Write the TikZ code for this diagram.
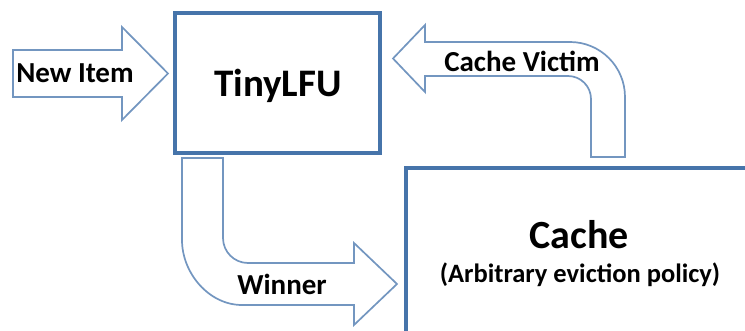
\documentclass[tikz,border=0pt]{standalone}
\usepackage{fontspec}
\setmainfont{Carlito}
\definecolor{boxblue}{RGB}{70,116,170}
\definecolor{arrowblue}{RGB}{115,150,192}
\tikzset{
    boxline/.style={draw=boxblue, line width=3.4pt, fill=white},
    blockarrow/.style={draw=arrowblue, line width=1.7pt, fill=white, line join=miter},
    lbl/.style={inner sep=0pt, anchor=base, font=\bfseries},
}
\begin{document}
\begin{tikzpicture}[x=1pt, y=-1pt]
    \useasboundingbox (0,0) rectangle (745,331);

    % New Item arrow
    \draw[blockarrow] (13,50) -- (122,50) -- (122,27) -- (168,73.5) -- (122,120) -- (122,97) -- (13,97) -- cycle;
    \node[lbl, font=\bfseries\fontsize{29}{29}\selectfont] (newitem) at (75,83) {New Item};

    % Cache Victim arrow (bent, coming up out of the cache)
    \draw[blockarrow] (393,58.5) -- (425,25) -- (425,42) -- (570,42)
        .. controls (600.4,42) and (625,66.6) .. (625,97) -- (625,157) -- (591,157) -- (591,99)
        .. controls (591,86.3) and (580.7,76) .. (568,76) -- (425,76) -- (425,92) -- cycle;
    \node[lbl, font=\bfseries\fontsize{29}{29}\selectfont] (victim) at (522,72) {Cache Victim};

    % Winner arrow (bent, going down into the cache)
    \draw[blockarrow] (182,158) -- (182,240)
        .. controls (182,273.1) and (208.9,305) .. (242,305) -- (354,305) -- (354,325) -- (397,284)
        -- (354,243) -- (354,263) -- (248,263)
        .. controls (234.2,263) and (223,251.8) .. (223,238) -- (223,158) -- cycle;
    \node[lbl, font=\bfseries\fontsize{29}{29}\selectfont] (winner) at (282,295) {Winner};

    % TinyLFU box
    \node[boxline, minimum width=205pt, minimum height=140pt, inner sep=0pt] (tinylfu) at (277.5,83) {};
    \node[lbl, font=\bfseries\fontsize{39}{39}\selectfont] (tinylbl) at (278,97) {TinyLFU};

    % Cache box (runs off the page)
    \draw[boxline] (406,168) rectangle (770,360);
    \node[lbl, font=\bfseries\fontsize{40}{40}\selectfont] (cache) at (579,249) {Cache};
    \node[lbl, font=\bfseries\fontsize{26.5}{26.5}\selectfont] (policy) at (580,283) {(Arbitrary eviction policy)};
\end{tikzpicture}
\end{document}
